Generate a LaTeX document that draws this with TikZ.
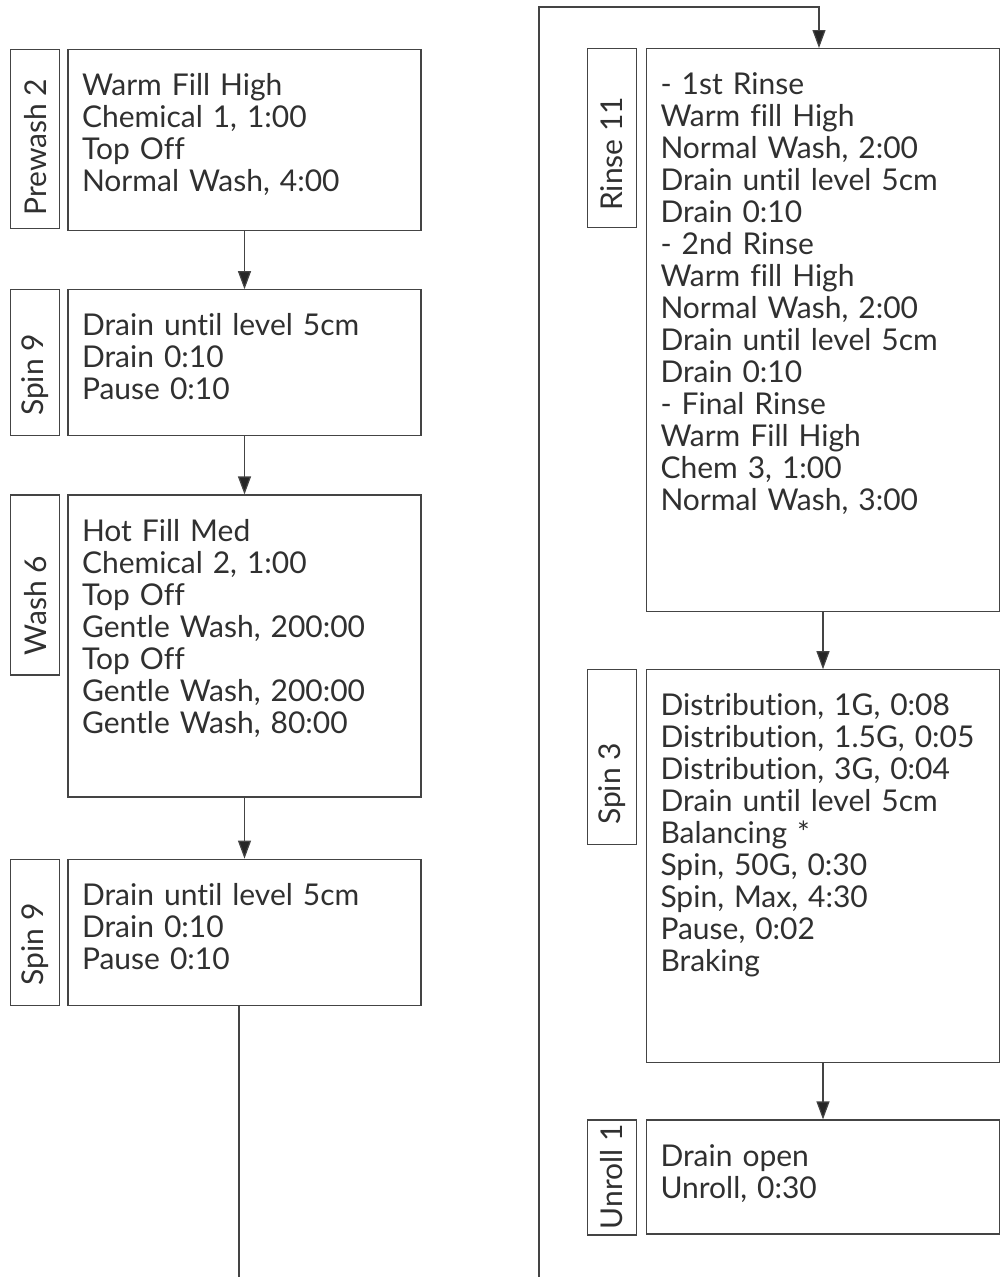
\documentclass[tikz,border=0pt]{standalone}
\usepackage{fontspec}
\setmainfont{Lato}[Ligatures=NoCommon]
\usepackage{tikz}
\usetikzlibrary{arrows.meta, positioning}
\definecolor{ink}{HTML}{303030}
\definecolor{frame}{HTML}{444444}

\begin{document}
\begin{tikzpicture}[
    x=1pt, y=-1pt,
    stage/.style={draw=frame, line width=1.2pt, text width=325pt, align=left, inner xsep=14pt, inner ysep=0pt, text height=46pt, anchor=north, text=ink, font=\fontsize{30}{32}\selectfont},
    tag/.style={draw=frame, line width=1.2pt, inner sep=0pt, minimum width=49pt, text=ink, font=\fontsize{30}{32}\selectfont},
    >={Triangle[width=13pt, length=18pt, fill=black!85]},
]
\useasboundingbox (0,0) rectangle (1002,1277);
% left column
\node[stage, text depth=135pt] (w1) at (244.5,49) {%
Warm Fill High\\
Chemical 1, 1:00\\
Top Off\\
Normal Wash, 4:00%
};
\node[stage, text depth=100pt, below=58pt of w1] (w2) {%
Drain until level 5cm\\
Drain 0:10\\
Pause 0:10%
};
\node[stage, text depth=256pt, below=58pt of w2] (w3) {%
Hot Fill Med\\
Chemical 2, 1:00\\
Top Off\\
Gentle Wash, 200:00\\
Top Off\\
Gentle Wash, 200:00\\
Gentle Wash, 80:00%
};
\node[stage, text depth=100pt, below=61pt of w3] (w4) {%
Drain until level 5cm\\
Drain 0:10\\
Pause 0:10%
};
\node[tag, left=7pt of w1.north west, anchor=north east] (w1t) {\rotatebox{90}{\hbox to 179pt{\hskip 13pt Prewash 2\hfil}}};
\node[tag, left=7pt of w2.north west, anchor=north east] (w2t) {\rotatebox{90}{\hbox to 146pt{\hskip 20pt Spin 9\hfil}}};
\node[tag, left=7pt of w3.north west, anchor=north east] (w3t) {\rotatebox{90}{\hbox to 180pt{\hskip 20pt Wash 6\hfil}}};
\node[tag, left=7pt of w4.north west, anchor=north east] (w4t) {\rotatebox{90}{\hbox to 146pt{\hskip 20pt Spin 9\hfil}}};
% right column
\node[stage, text depth=517pt] (r1) at (823,48) {%
- 1st Rinse\\
Warm fill High\\
Normal Wash, 2:00\\
Drain until level 5cm\\
Drain 0:10\\
- 2nd Rinse\\
Warm fill High\\
Normal Wash, 2:00\\
Drain until level 5cm\\
Drain 0:10\\
- Final Rinse\\
Warm Fill High\\
Chem 3, 1:00\\
Normal Wash, 3:00%
};
\node[stage, text depth=347pt, below=57pt of r1] (r2) {%
Distribution, 1G, 0:08\\
Distribution, 1.5G, 0:05\\
Distribution, 3G, 0:04\\
Drain until level 5cm\\
Balancing *\\
Spin, 50G, 0:30\\
Spin, Max, 4:30\\
Pause, 0:02\\
Braking%
};
\node[stage, text depth=68pt, below=56pt of r2] (r3) {%
Drain open\\
Unroll, 0:30%
};
\node[tag, left=9pt of r1.north west, anchor=north east] (r1t) {\rotatebox{90}{\hbox to 179pt{\hskip 17pt Rinse 11\hfil}}};
\node[tag, left=9pt of r2.north west, anchor=north east] (r2t) {\rotatebox{90}{\hbox to 175pt{\hskip 20pt Spin 3\hfil}}};
\node[tag, left=9pt of r3.north west, anchor=north east] (r3t) {\rotatebox{90}{\hbox to 115pt{\hskip 6pt Unroll 1\hfil}}};
% connectors
\coordinate (wout) at (239,1277);
\coordinate (rin) at (539,1277);
\coordinate (rtop) at (819,7);
\draw[->, frame, line width=1.2pt] (w1) -- (w2);
\draw[->, frame, line width=1.2pt] (w2) -- (w3);
\draw[->, frame, line width=1.2pt] (w3) -- (w4);
\draw[frame, line width=1.2pt] (w4.south -| wout) -- (wout);
\draw[->, frame, line width=1.2pt] (rin) |- (rtop) -- (rtop |- r1.north);
\draw[->, frame, line width=1.2pt] (r1) -- (r2);
\draw[->, frame, line width=1.2pt] (r2) -- (r3);
\end{tikzpicture}
\end{document}
